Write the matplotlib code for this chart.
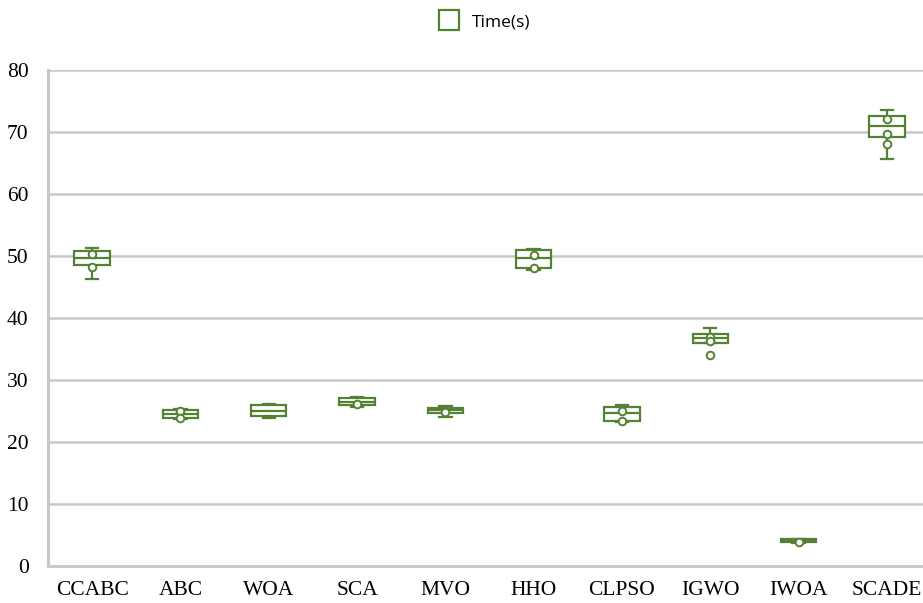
#! /usr/bin/env python3
# coding: utf-8

import matplotlib
matplotlib.use("Agg")
import matplotlib.pyplot as plt
from matplotlib.lines import Line2D

####
# les donnees : temps d'execution par algorithme
####

algos = ["CCABC", "ABC", "WOA", "SCA", "MVO", "HHO", "CLPSO", "IGWO", "IWOA", "SCADE"]
whisker_bas = [46.3, 23.7, 23.9, 25.6, 24.0, 47.7, 23.2, 36.0, 3.7, 65.7]
q1 = [48.5, 23.9, 24.2, 26.0, 24.7, 48.1, 23.4, 36.0, 3.9, 69.2]
mediane = [49.7, 24.5, 25.0, 26.5, 25.1, 49.7, 24.7, 36.8, 4.1, 71.0]
q3 = [50.8, 25.2, 26.0, 27.1, 25.5, 51.0, 25.6, 37.4, 4.3, 72.6]
whisker_haut = [51.3, 25.4, 26.2, 27.2, 25.8, 51.2, 25.9, 38.4, 4.4, 73.5]
# points affiches a l'interieur / hors des boites
points = [[50.4, 48.3], [25.0, 23.9], [], [26.1], [24.8],
          [50.2, 48.0], [25.0, 23.4], [37.0, 36.3, 34.1], [3.8],
          [72.1, 69.7, 68.1]]

vert = "#548235"
gris = "#c8c8c8"

#####
# le graphique
#####

def graphique():
	fig = plt.figure(figsize=(9.23, 6.03), dpi=100)
	ax = fig.add_axes([48 / 923, 37 / 603, 883 / 923, 496 / 603])

	stats = []
	for i in range(len(algos)):
		stats.append({"whislo": whisker_bas[i], "q1": q1[i], "med": mediane[i],
					  "q3": q3[i], "whishi": whisker_haut[i], "fliers": [],
					  "label": algos[i]})
	pos = list(range(len(algos)))
	ax.bxp(stats, positions=pos, widths=0.4, capwidths=0.14, showfliers=False,
		   patch_artist=True,
		   boxprops=dict(facecolor="white", edgecolor=vert, linewidth=1.6),
		   medianprops=dict(color=vert, linewidth=1.6),
		   whiskerprops=dict(color=vert, linewidth=1.6),
		   capprops=dict(color=vert, linewidth=1.6), zorder=3)

	for i, pts in enumerate(points):
		if pts:
			ax.scatter([pos[i]] * len(pts), pts, s=30, facecolor="white",
					   edgecolor=vert, linewidth=1.4, zorder=4)

	ax.set_xlim(-0.5, len(algos) - 0.5)
	ax.set_ylim(0, 80)
	ax.set_yticks(range(0, 81, 10))
	ax.grid(axis="y", color=gris, linewidth=1.8, zorder=0)
	ax.set_axisbelow(True)
	for s in ["top", "right"]:
		ax.spines[s].set_visible(False)
	for s in ["left", "bottom"]:
		ax.spines[s].set_color(gris)
		ax.spines[s].set_linewidth(2.2)
	ax.tick_params(length=0, labelsize=15.5)
	ax.tick_params(axis="y", pad=14)
	ax.tick_params(axis="x", pad=11)
	for lab in ax.get_xticklabels() + ax.get_yticklabels():
		lab.set_fontfamily("Liberation Serif")
		lab.set_color("black")

	handle = Line2D([], [], marker="s", linestyle="none", markersize=14,
					markerfacecolor="white", markeredgecolor=vert, markeredgewidth=1.6)
	fig.legend([handle], ["Time(s)"], loc="center", bbox_to_anchor=(481 / 923, 1 - 22 / 603),
			   frameon=False, prop={"family": "Open Sans", "size": 12.5},
			   handletextpad=0.3)

	fig.savefig("out.png", dpi=100)


def main():
	graphique()

if __name__ == "__main__":
	main()
